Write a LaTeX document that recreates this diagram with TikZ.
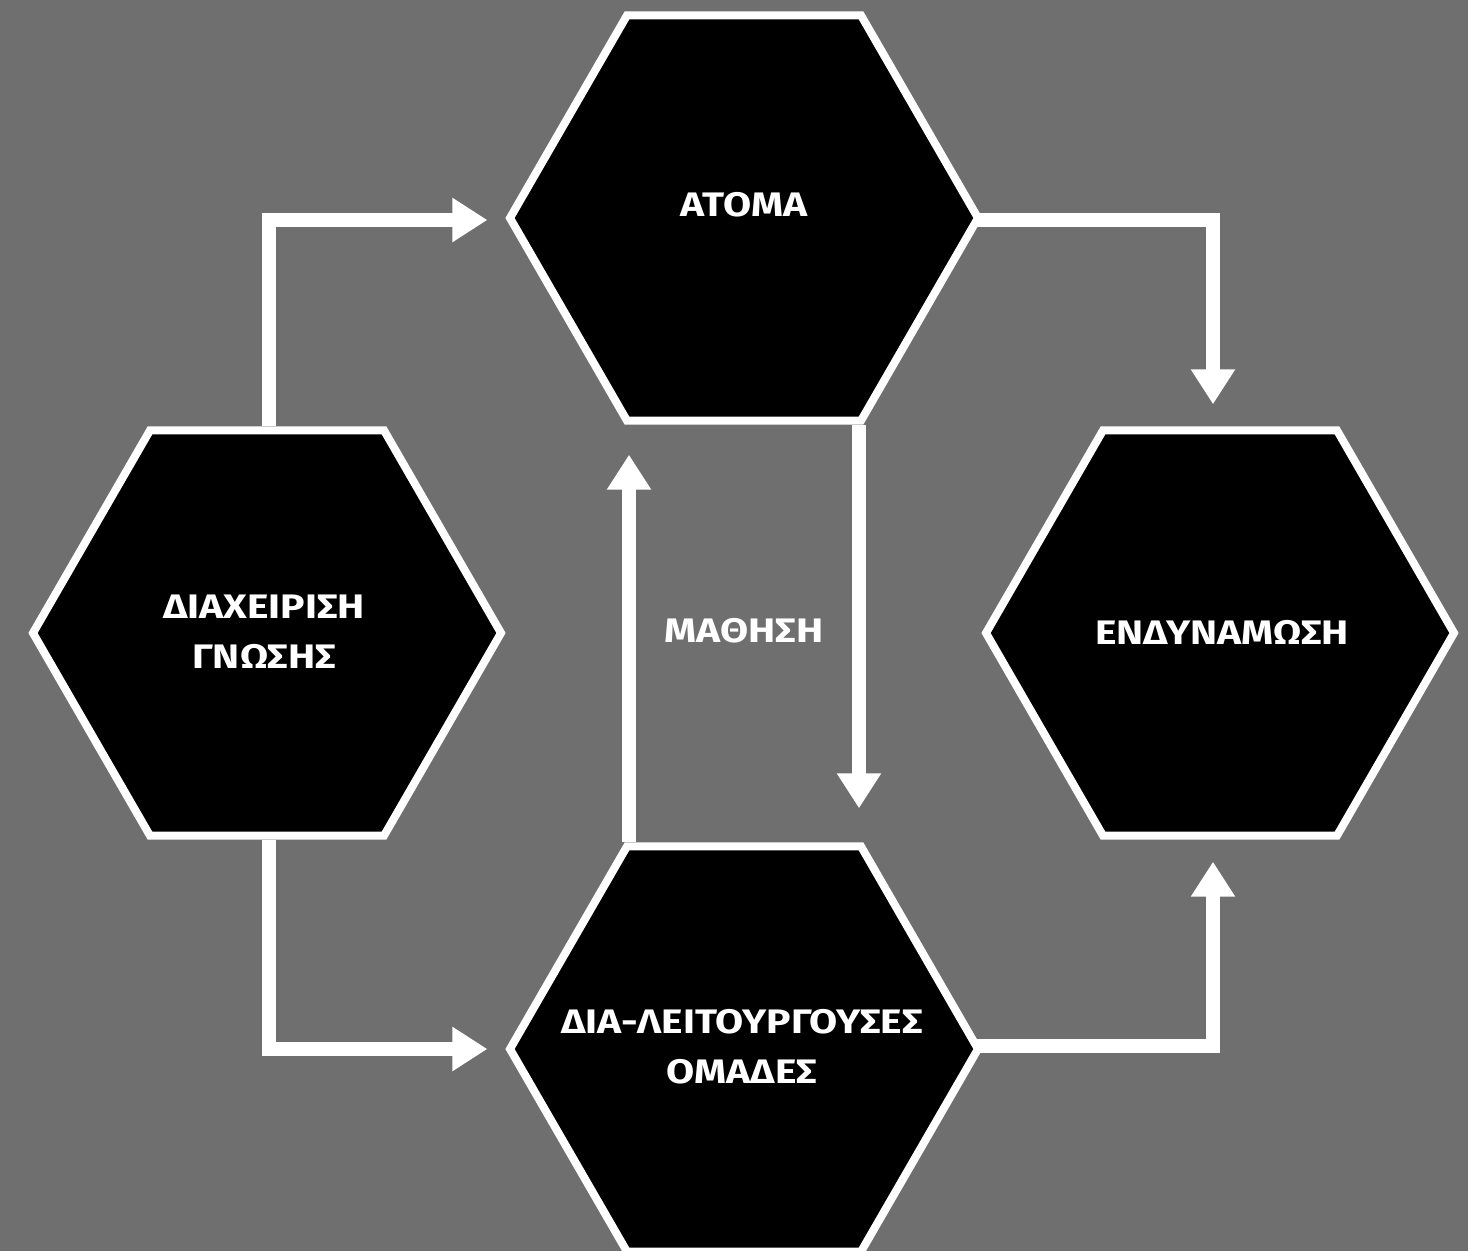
\documentclass[tikz,border=0pt]{standalone}
\usepackage{fontspec}
\setmainfont{Fira Sans}[FakeStretch=1.2]
\usetikzlibrary{shapes.geometric,arrows.meta,calc}
\definecolor{bggray}{HTML}{6F6F6F}
\tikzset{
  hexa/.style={regular polygon, regular polygon sides=6, minimum size=468pt, inner sep=0pt,
    draw=white, line width=8pt, fill=black},
  lbl/.style={text=white, font=\bfseries\fontsize{34}{50}\selectfont, align=center, inner sep=0pt},
  flow/.style={draw=white, line width=14pt, -{Triangle[width=42pt,length=35pt]}}
}
\begin{document}
\begin{tikzpicture}[x=1pt,y=-1pt]
\fill[bggray] (0,0) rectangle (1468,1251);
\useasboundingbox (0,0) rectangle (1468,1251);
\node[hexa] (T) at (744,218) {};
\node[hexa] (L) at (267,633) {};
\node[hexa] (R) at (1220,633) {};
\node[hexa] (B) at (744,1049) {};
\node[lbl] (tT) at (744,205) {ΑΤΟΜΑ};
\node[lbl] (tL) at (264,632) {ΔΙΑΧΕΙΡΙΣΗ\\ΓΝΩΣΗΣ};
\node[lbl] (tR) at (1222,632) {ΕΝΔΥΝΑΜΩΣΗ};
\node[lbl] (tB) at (742,1047) {ΔΙΑ-ΛΕΙΤΟΥΡΓΟΥΣΕΣ\\ΟΜΑΔΕΣ};
\node[lbl] (M) at (744,631) {ΜΑΘΗΣΗ};
\draw[flow] ([xshift=2pt]L.north) |- ($(T.west)+(-18,2)$);
\draw[flow] ([xshift=-7pt,yshift=-2pt]T.east) -| ($(R.north)+(-7,-22)$);
\draw[flow] ([xshift=2pt]L.south) |- ($(B.west)+(-18,0)$);
\draw[flow] ([xshift=-7pt,yshift=3pt]B.east) -| ($(R.south)+(-7,22)$);
\draw[flow] ($(B.north)+(-115,0)$) -- ($(T.south)+(-115,30)$);
\draw[flow] ($(T.south)+(115,0)$) -- ($(B.north)+(115,-34)$);
\end{tikzpicture}
\end{document}
